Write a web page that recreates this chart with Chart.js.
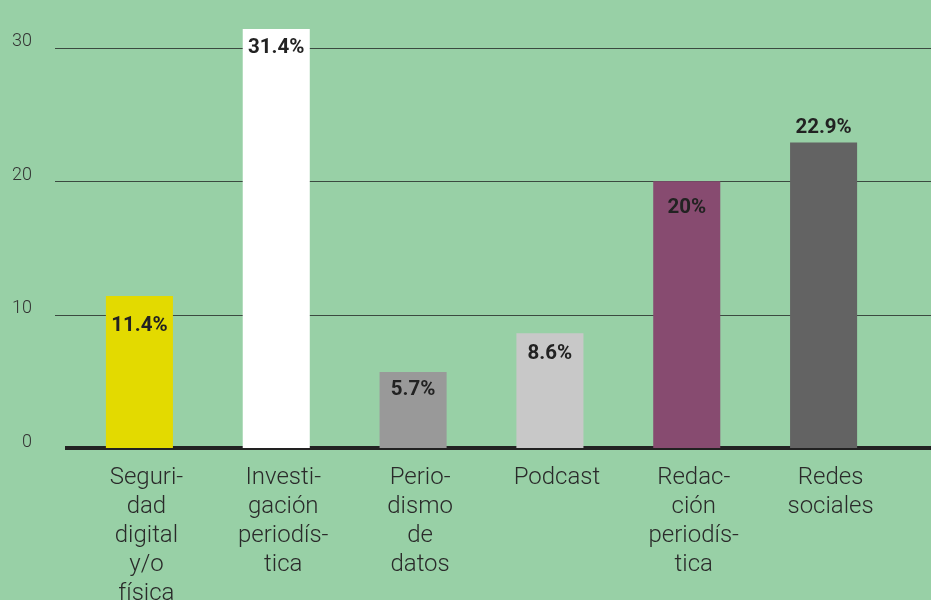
<!DOCTYPE html>
<html>
<head>
<meta charset="utf-8">
<script src="https://cdn.jsdelivr.net/npm/chart.js@4"></script>
<style>
  html, body { margin: 0; padding: 0; background: #98d0a6; }
  #wrap { width: 931px; height: 600px; }
</style>
</head>
<body>
<div id="wrap"><canvas id="chart" width="931" height="600"></canvas></div>
<script>
// categorías (cortadas en líneas como en el original)
const categories = [
    ['Seguri-', 'dad', 'digital', 'y/o', 'física'],
    ['Investi-', 'gación', 'periodís-', 'tica'],
    ['Perio-', 'dismo', 'de', 'datos'],
    ['Podcast'],
    ['Redac-', 'ción', 'periodís-', 'tica'],
    ['Redes', 'sociales']
];
const values = [11.4, 31.4, 5.7, 8.6, 20, 22.9];
const valueLabels = ['11.4%', '31.4%', '5.7%', '8.6%', '20%', '22.9%'];
const yTicks = [0, 10, 20, 30];

const barColors = ['#e3da00', '#ffffff', '#999999', '#c8c8c8', '#874b70', '#636363'];
// desplazamiento vertical de la etiqueta respecto al tope de la barra
const labelShift = [30, 19, 18, 21, 27, -15];

// líneas de guía más largas que el área del gráfico
const gridPlugin = {
    id: 'gridLines',
    beforeDatasetsDraw(chart) {
        const ctx = chart.ctx;
        const y = chart.scales.y;
        ctx.save();
        yTicks.forEach(v => {
            const py = Math.round(y.getPixelForValue(v));
            if (v === 0) {
                ctx.strokeStyle = '#222222';
                ctx.lineWidth = 4;
                ctx.beginPath();
                ctx.moveTo(65, py);
                ctx.lineTo(chart.width, py);
                ctx.stroke();
            } else {
                ctx.strokeStyle = '#3b4a40';
                ctx.lineWidth = 1.2;
                ctx.beginPath();
                ctx.moveTo(55, py + 0.5);
                ctx.lineTo(chart.width, py + 0.5);
                ctx.stroke();
            }
        });
        ctx.restore();
    }
};

// etiquetas de porcentaje
const valuePlugin = {
    id: 'valueLabels',
    afterDatasetsDraw(chart) {
        const ctx = chart.ctx;
        const meta = chart.getDatasetMeta(0);
        ctx.save();
        ctx.font = 'bold 20.5px Roboto';
        ctx.fillStyle = '#222222';
        ctx.textAlign = 'center';
        ctx.textBaseline = 'middle';
        meta.data.forEach((bar, i) => {
            ctx.fillText(valueLabels[i], bar.x, bar.y + labelShift[i]);
        });
        ctx.restore();
    }
};

new Chart(document.getElementById('chart'), {
    type: 'bar',
    data: {
        labels: categories,
        datasets: [{
            data: values,
            backgroundColor: barColors,
            borderWidth: 0,
            barPercentage: 0.49,
            categoryPercentage: 1
        }]
    },
    options: {
        responsive: false,
        animation: false,
        layout: { padding: { top: 21, right: 39, left: 0, bottom: 0 } },
        plugins: { legend: { display: false }, tooltip: { enabled: false } },
        scales: {
            x: {
                grid: { display: false },
                border: { display: false },
                afterFit(scale) { scale.height = 152; },
                ticks: {
                    autoSkip: false,
                    maxRotation: 0,
                    padding: 8,
                    labelOffset: 7,
                    color: '#2a2a2a',
                    font: { family: 'Roboto', weight: '300', size: 24, lineHeight: 1.2 }
                }
            },
            y: {
                min: 0,
                max: 32,
                grid: { display: false, drawTicks: false },
                border: { display: false },
                afterFit(scale) {
                    scale.width = 71;
                    scale.paddingTop = 0;
                    scale.paddingBottom = 0;
                },
                ticks: {
                    stepSize: 10,
                    includeBounds: false,
                    padding: 39,
                    labelOffset: -6,
                    color: '#333333',
                    font: { family: 'Roboto', weight: '300', size: 18 }
                }
            }
        }
    },
    plugins: [gridPlugin, valuePlugin]
});
</script>
</body>
</html>
